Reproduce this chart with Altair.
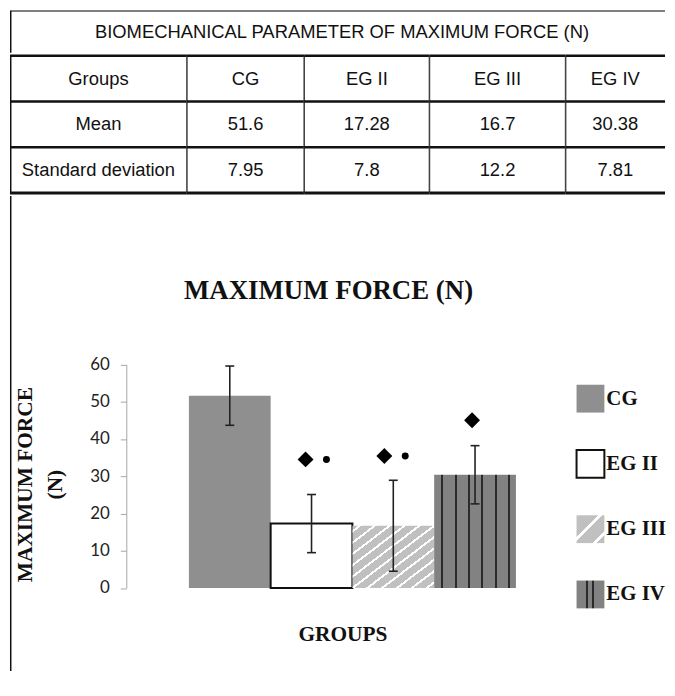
import altair as alt
import pandas as pd

# ---------------- data ----------------
groups = ["CG", "EG II", "EG III", "EG IV"]
means = [51.6, 17.28, 16.7, 30.38]
sds = [7.95, 7.8, 12.2, 7.81]

table_title = "BIOMECHANICAL PARAMETER OF MAXIMUM FORCE (N)"
row_labels = ["Groups", "Mean", "Standard deviation"]
mean_text = ["51.6", "17.28", "16.7", "30.38"]
sd_text = ["7.95", "7.8", "12.2", "7.81"]

marker_groups = ["EG II", "EG II", "EG III", "EG III", "EG IV"]
marker_values = [34.5, 34.5, 35.4, 35.4, 45.0]
marker_shapes = ["diamond", "circle", "diamond", "circle", "diamond"]

chart_title = "MAXIMUM FORCE (N)"
y_title = ["MAXIMUM FORCE", "(N)"]
x_title = "GROUPS"
y_ticks = [0, 10, 20, 30, 40, 50, 60]

# ---------------- style / layout ----------------
W = 659
COL_W = [178, 118, 126, 137, 100]
TITLE_H = 42
TABLE_H = 138
CHART_H = 478
SANS = "Liberation Sans"
SERIF = "Liberation Serif"
INK = "#111111"
TABLE_FS = 18.5
marker_offsets = [-6, 15, -9, 12, -3]
marker_sizes = {"diamond": 256, "circle": 49}


def stripes(base, line, centers, width, x1=0, y1=0, x2=1, y2=0):
    stops = [{"offset": 0, "color": base}]
    for c in centers:
        a = max(0.0, c - width / 2)
        b = min(1.0, c + width / 2)
        stops += [
            {"offset": a, "color": base},
            {"offset": a, "color": line},
            {"offset": b, "color": line},
            {"offset": b, "color": base},
        ]
    stops.append({"offset": 1, "color": base})
    return {"gradient": "linear", "x1": x1, "y1": y1, "x2": x2, "y2": y2, "stops": stops}


n_diag = 11
diag_bar = stripes("#c0c0c0", "#ffffff", [(k + 0.5) / n_diag for k in range(n_diag)],
                   0.22 / n_diag, 0, 0, 1, 1)
diag_swatch = stripes("#c0c0c0", "#ffffff", [0.42, 0.82], 0.07, 0, 0, 1, 1)
vert_bar = stripes("#828282", "#2b2b2b", [0.098 + 0.164 * k for k in range(6)], 0.026)
vert_swatch = stripes("#828282", "#2b2b2b", [0.36, 0.6], 0.07)

bar_styles = {
    "CG": dict(fill="#8f8f8f"),
    "EG II": dict(fill="#ffffff", stroke=INK, strokeWidth=2),
    "EG III": dict(fill=diag_bar),
    "EG IV": dict(fill=vert_bar),
}
swatch_styles = {
    "CG": dict(fill="#8f8f8f"),
    "EG II": dict(fill="#ffffff", stroke=INK, strokeWidth=2),
    "EG III": dict(fill=diag_swatch),
    "EG IV": dict(fill=vert_swatch),
}

one = pd.DataFrame({"k": [0]})

# ---------------- table title row ----------------
title_panel = alt.layer(
    alt.Chart(one).mark_text(text=table_title, font=SANS, fontSize=TABLE_FS, color=INK,
                             baseline="middle", align="center")
    .encode(x=alt.value(334), y=alt.value(TITLE_H / 2)),
    alt.Chart(one).mark_rule(color="#555555", strokeWidth=1.5)
    .encode(x=alt.value(0), x2=alt.value(W), y=alt.value(0)),
    alt.Chart(one).mark_rule(color=INK, strokeWidth=1.5)
    .encode(x=alt.value(0.75), y=alt.value(0), y2=alt.value(TITLE_H)),
).properties(width=W, height=TITLE_H)

# ---------------- table body ----------------
columns = [row_labels] + [[g, m, s] for g, m, s in zip(groups, mean_text, sd_text)]
col_panels = []
for i, (texts, w) in enumerate(zip(columns, COL_W)):
    df = pd.DataFrame({"row": [0, 1, 2], "text": texts})
    rscale = alt.Scale(type="band", domain=[0, 1, 2], paddingInner=0, paddingOuter=0)
    layers = [
        alt.Chart(df).mark_text(font=SANS, fontSize=TABLE_FS, color=INK, baseline="middle")
        .encode(y=alt.Y("row:O", scale=rscale, axis=None), x=alt.value(w / 2), text="text:N"),
        alt.Chart(df).mark_rule(color=INK, strokeWidth=2.5)
        .encode(y=alt.Y("row:O", scale=rscale, axis=None, bandPosition=0),
                x=alt.value(0), x2=alt.value(w)),
        alt.Chart(one).mark_rule(color=INK, strokeWidth=3)
        .encode(y=alt.value(TABLE_H), x=alt.value(0), x2=alt.value(w)),
    ]
    if i < len(COL_W) - 1:
        layers.append(alt.Chart(one).mark_rule(color="#444444", strokeWidth=1.6)
                      .encode(x=alt.value(w), y=alt.value(0), y2=alt.value(TABLE_H)))
    if i == 0:
        layers.append(alt.Chart(one).mark_rule(color=INK, strokeWidth=1.5)
                      .encode(x=alt.value(0.75), y=alt.value(0), y2=alt.value(TABLE_H)))
    col_panels.append(alt.layer(*layers).properties(width=w, height=TABLE_H))

table_row = alt.hconcat(*col_panels, spacing=0, bounds="flush")

# ---------------- bar chart ----------------
data = pd.DataFrame({"group": groups, "mean": means, "sd": sds})
xs = alt.Scale(domain=groups, range=[180, 509], paddingInner=0, paddingOuter=0)
ys = alt.Scale(domain=[0, 60], range=[394.5, 169.5], nice=False, zero=True)
yaxis = alt.Axis(values=y_ticks, offset=-117, title=None, grid=False,
                 domainColor="#a6a6a6", tickColor="#a6a6a6", tickSize=6,
                 labelFont="Lato", labelFontSize=17, labelColor="#222222",
                 labelPadding=11)
X = alt.X("group:N", scale=xs, axis=None)


def Y(field):
    return alt.Y(field, scale=ys, axis=yaxis)


base = alt.Chart(data)
main_layers = []
for g in groups:
    main_layers.append(
        base.transform_filter(alt.datum.group == g)
        .mark_bar(**bar_styles[g])
        .encode(x=X, y=Y("mean:Q"))
    )

err = base.transform_calculate(lo="datum.mean - datum.sd", hi="datum.mean + datum.sd")
main_layers.append(err.mark_rule(color="#222222", strokeWidth=1.6)
                   .encode(x=X, y=Y("lo:Q"), y2="hi:Q"))
main_layers.append(err.mark_tick(color="#222222", size=9, thickness=1.6, opacity=1)
                   .encode(x=X, y=Y("lo:Q")))
main_layers.append(err.mark_tick(color="#222222", size=9, thickness=1.6, opacity=1)
                   .encode(x=X, y=Y("hi:Q")))

for g, v, s, off in zip(marker_groups, marker_values, marker_shapes, marker_offsets):
    mdf = pd.DataFrame({"group": [g], "value": [v]})
    main_layers.append(
        alt.Chart(mdf).mark_point(shape=s, filled=True, size=marker_sizes[s],
                                  color="#000000", opacity=1, xOffset=off)
        .encode(x=X, y=Y("value:Q"))
    )

main = alt.layer(*main_layers)

# legend
leg = pd.DataFrame({"group": groups})
ly = alt.Y("group:N", scale=alt.Scale(type="point", domain=groups, range=[204, 401], padding=0),
           axis=None)
legend_layers = []
for g in groups:
    legend_layers.append(
        alt.Chart(leg).transform_filter(alt.datum.group == g)
        .mark_square(size=784, opacity=1, **swatch_styles[g])
        .encode(x=alt.value(584), y=ly)
    )
legend_layers.append(
    alt.Chart(leg).mark_text(align="left", baseline="middle", font=SERIF, fontWeight="bold",
                             fontSize=21, color=INK)
    .encode(x=alt.value(600), y=ly, text="group:N")
)
legend = alt.layer(*legend_layers)

texts = alt.layer(
    alt.Chart(one).mark_text(text=chart_title, font=SERIF, fontWeight="bold", fontSize=27,
                             color=INK, align="center", baseline="middle")
    .encode(x=alt.value(320.5), y=alt.value(95.5)),
    alt.Chart(one).mark_text(text=y_title, font=SERIF, fontWeight="bold", fontSize=21.5,
                             lineHeight=30, angle=270, color=INK, align="center",
                             baseline="middle")
    .encode(x=alt.value(16), y=alt.value(290.5)),
    alt.Chart(one).mark_text(text=x_title, font=SERIF, fontWeight="bold", fontSize=21.5,
                             color=INK, align="center", baseline="middle")
    .encode(x=alt.value(335), y=alt.value(441.5)),
    alt.Chart(one).mark_rule(color=INK, strokeWidth=1.5)
    .encode(x=alt.value(0.75), y=alt.value(0), y2=alt.value(CHART_H)),
)

chart_panel = alt.layer(main, legend, texts).resolve_scale(y="independent").properties(
    width=W, height=CHART_H)

chart = alt.vconcat(title_panel, table_row, chart_panel, spacing=0).properties(
    padding=0, autosize=alt.AutoSizeParams(type="pad")
).configure(padding=0).configure_view(strokeWidth=0)

chart.save("out.html", embed_options={"renderer": "svg", "actions": False})
